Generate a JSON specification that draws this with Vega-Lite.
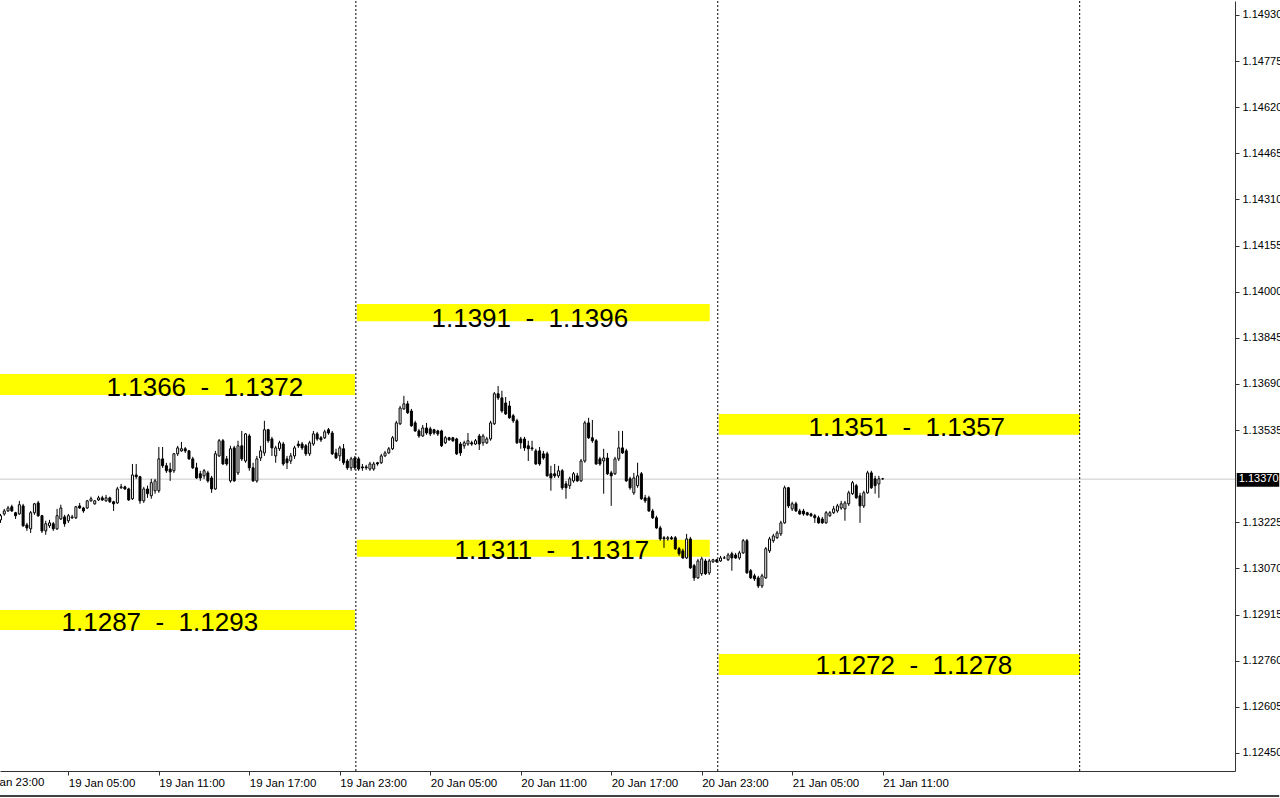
{
"$schema": "https://vega.github.io/schema/vega-lite/v6.json",
"width": 1235, "height": 770,
"autosize": {"type": "pad"},
"padding": {"left": -23, "top": 0, "right": 0, "bottom": 0},
"background": "white",
"config": {"view": {"stroke": null}, "font": "Liberation Sans",
 "axisX": {"labelAlign": "left", "labelBaseline": "top", "labelFont": "Liberation Sans", "labelFontSize": 11.5, "labelColor": "black", "labelPadding": 2, "labelOverlap": false, "labelFlush": false, "tickSize": 4, "tickColor": "#333333", "domainColor": "#333333", "grid": false, "title": null},
 "axisY": {"labelFont": "Liberation Sans", "labelFontSize": 11, "labelColor": "black", "labelPadding": 3, "labelOverlap": false, "labelFlush": false, "tickSize": 4, "tickColor": "#333333", "domainColor": "#333333", "grid": false, "title": null}
},
"datasets": {
"zones": [
{"x1":"2022-01-19T00:28","x2":"2022-01-20T00:00","lo":1.13653,"hi":1.13723,"label":"1.1366\u00a0\u00a0-\u00a0\u00a01.1372","tc":"2022-01-19T14:03","tb":1.13650},
{"x1":"2022-01-19T00:28","x2":"2022-01-20T00:00","lo":1.12863,"hi":1.12930,"label":"1.1287\u00a0\u00a0-\u00a0\u00a01.1293","tc":"2022-01-19T11:04","tb":1.12860},
{"x1":"2022-01-20T00:08","x2":"2022-01-20T23:32","lo":1.13901,"hi":1.13959,"label":"1.1391\u00a0\u00a0-\u00a0\u00a01.1396","tc":"2022-01-20T11:36","tb":1.13881},
{"x1":"2022-01-20T00:08","x2":"2022-01-20T23:32","lo":1.13109,"hi":1.13166,"label":"1.1311\u00a0\u00a0-\u00a0\u00a01.1317","tc":"2022-01-20T13:04","tb":1.13102},
{"x1":"2022-01-21T00:08","x2":"2022-01-22T00:05","lo":1.13519,"hi":1.13589,"label":"1.1351\u00a0\u00a0-\u00a0\u00a01.1357","tc":"2022-01-21T12:36","tb":1.13515},
{"x1":"2022-01-21T00:08","x2":"2022-01-22T00:05","lo":1.12712,"hi":1.12782,"label":"1.1272\u00a0\u00a0-\u00a0\u00a01.1278","tc":"2022-01-21T13:04","tb":1.12715}
],
"seps": [{"t":"2022-01-20T00:04"},{"t":"2022-01-21T00:04"},{"t":"2022-01-22T00:04"}],
"bid": [{"price":1.1337,"label":"1.13370","bx1":"2022-01-22T10:29","bx2":"2022-01-22T13:18","btx":"2022-01-22T10:37","blo":1.13344,"bhi":1.13391,"fx1":"2022-01-19T00:28","fy":1.12305}],
"edge": [{"t":"2022-01-18T23:00","p":1.12369,"label":"18 Jan 23:00"}],
"candles": [
{"t":"2022-01-19T00:30","o":1.13233,"h":1.13253,"l":1.13223,"c":1.13247},
{"t":"2022-01-19T00:45","o":1.13253,"h":1.13270,"l":1.13247,"c":1.13263},
{"t":"2022-01-19T01:00","o":1.13263,"h":1.13280,"l":1.13260,"c":1.13273},
{"t":"2022-01-19T01:15","o":1.13277,"h":1.13284,"l":1.13260,"c":1.13263},
{"t":"2022-01-19T01:30","o":1.13257,"h":1.13260,"l":1.13236,"c":1.13247},
{"t":"2022-01-19T01:45","o":1.13253,"h":1.13297,"l":1.13250,"c":1.13284},
{"t":"2022-01-19T02:00","o":1.13280,"h":1.13287,"l":1.13210,"c":1.13213},
{"t":"2022-01-19T02:15","o":1.13216,"h":1.13223,"l":1.13196,"c":1.13206},
{"t":"2022-01-19T02:30","o":1.13203,"h":1.13263,"l":1.13189,"c":1.13257},
{"t":"2022-01-19T02:45","o":1.13257,"h":1.13290,"l":1.13250,"c":1.13287},
{"t":"2022-01-19T03:00","o":1.13290,"h":1.13297,"l":1.13243,"c":1.13247},
{"t":"2022-01-19T03:15","o":1.13247,"h":1.13250,"l":1.13189,"c":1.13196},
{"t":"2022-01-19T03:30","o":1.13196,"h":1.13230,"l":1.13183,"c":1.13220},
{"t":"2022-01-19T03:45","o":1.13213,"h":1.13233,"l":1.13206,"c":1.13223},
{"t":"2022-01-19T04:00","o":1.13220,"h":1.13226,"l":1.13196,"c":1.13203},
{"t":"2022-01-19T04:15","o":1.13203,"h":1.13270,"l":1.13199,"c":1.13247},
{"t":"2022-01-19T04:30","o":1.13236,"h":1.13284,"l":1.13233,"c":1.13273},
{"t":"2022-01-19T04:45","o":1.13243,"h":1.13250,"l":1.13210,"c":1.13220},
{"t":"2022-01-19T05:00","o":1.13230,"h":1.13253,"l":1.13223,"c":1.13247},
{"t":"2022-01-19T05:15","o":1.13240,"h":1.13250,"l":1.13236,"c":1.13243},
{"t":"2022-01-19T05:30","o":1.13240,"h":1.13280,"l":1.13236,"c":1.13277},
{"t":"2022-01-19T05:45","o":1.13280,"h":1.13290,"l":1.13270,"c":1.13273},
{"t":"2022-01-19T06:00","o":1.13273,"h":1.13277,"l":1.13257,"c":1.13263},
{"t":"2022-01-19T06:15","o":1.13273,"h":1.13300,"l":1.13270,"c":1.13297},
{"t":"2022-01-19T06:30","o":1.13297,"h":1.13311,"l":1.13294,"c":1.13304},
{"t":"2022-01-19T06:45","o":1.13287,"h":1.13300,"l":1.13284,"c":1.13297},
{"t":"2022-01-19T07:00","o":1.13300,"h":1.13314,"l":1.13297,"c":1.13307},
{"t":"2022-01-19T07:15","o":1.13307,"h":1.13314,"l":1.13297,"c":1.13300},
{"t":"2022-01-19T07:30","o":1.13297,"h":1.13317,"l":1.13294,"c":1.13307},
{"t":"2022-01-19T07:45","o":1.13307,"h":1.13311,"l":1.13290,"c":1.13294},
{"t":"2022-01-19T08:00","o":1.13294,"h":1.13297,"l":1.13263,"c":1.13287},
{"t":"2022-01-19T08:15","o":1.13290,"h":1.13344,"l":1.13287,"c":1.13337},
{"t":"2022-01-19T08:30","o":1.13341,"h":1.13354,"l":1.13337,"c":1.13344},
{"t":"2022-01-19T08:45","o":1.13344,"h":1.13348,"l":1.13334,"c":1.13337},
{"t":"2022-01-19T09:00","o":1.13337,"h":1.13341,"l":1.13297,"c":1.13300},
{"t":"2022-01-19T09:15","o":1.13304,"h":1.13421,"l":1.13300,"c":1.13384},
{"t":"2022-01-19T09:30","o":1.13384,"h":1.13421,"l":1.13371,"c":1.13378},
{"t":"2022-01-19T09:45","o":1.13378,"h":1.13381,"l":1.13287,"c":1.13297},
{"t":"2022-01-19T10:00","o":1.13297,"h":1.13344,"l":1.13290,"c":1.13337},
{"t":"2022-01-19T10:15","o":1.13337,"h":1.13348,"l":1.13307,"c":1.13321},
{"t":"2022-01-19T10:30","o":1.13314,"h":1.13371,"l":1.13304,"c":1.13358},
{"t":"2022-01-19T10:45","o":1.13331,"h":1.13371,"l":1.13321,"c":1.13364},
{"t":"2022-01-19T11:00","o":1.13331,"h":1.13478,"l":1.13324,"c":1.13438},
{"t":"2022-01-19T11:15","o":1.13438,"h":1.13478,"l":1.13408,"c":1.13415},
{"t":"2022-01-19T11:30","o":1.13415,"h":1.13425,"l":1.13391,"c":1.13398},
{"t":"2022-01-19T11:45","o":1.13404,"h":1.13425,"l":1.13364,"c":1.13394},
{"t":"2022-01-19T12:00","o":1.13398,"h":1.13458,"l":1.13391,"c":1.13455},
{"t":"2022-01-19T12:15","o":1.13455,"h":1.13482,"l":1.13448,"c":1.13475},
{"t":"2022-01-19T12:30","o":1.13465,"h":1.13495,"l":1.13462,"c":1.13472},
{"t":"2022-01-19T12:45","o":1.13472,"h":1.13478,"l":1.13458,"c":1.13465},
{"t":"2022-01-19T13:00","o":1.13465,"h":1.13468,"l":1.13435,"c":1.13438},
{"t":"2022-01-19T13:15","o":1.13438,"h":1.13445,"l":1.13404,"c":1.13408},
{"t":"2022-01-19T13:30","o":1.13408,"h":1.13425,"l":1.13371,"c":1.13374},
{"t":"2022-01-19T13:45","o":1.13388,"h":1.13398,"l":1.13364,"c":1.13374},
{"t":"2022-01-19T14:00","o":1.13381,"h":1.13404,"l":1.13371,"c":1.13398},
{"t":"2022-01-19T14:15","o":1.13391,"h":1.13398,"l":1.13358,"c":1.13364},
{"t":"2022-01-19T14:30","o":1.13374,"h":1.13381,"l":1.13324,"c":1.13337},
{"t":"2022-01-19T14:45","o":1.13337,"h":1.13465,"l":1.13334,"c":1.13455},
{"t":"2022-01-19T15:00","o":1.13448,"h":1.13505,"l":1.13445,"c":1.13499},
{"t":"2022-01-19T15:15","o":1.13499,"h":1.13505,"l":1.13418,"c":1.13421},
{"t":"2022-01-19T15:30","o":1.13438,"h":1.13448,"l":1.13415,"c":1.13421},
{"t":"2022-01-19T15:45","o":1.13364,"h":1.13482,"l":1.13358,"c":1.13472},
{"t":"2022-01-19T16:00","o":1.13475,"h":1.13482,"l":1.13361,"c":1.13364},
{"t":"2022-01-19T16:15","o":1.13391,"h":1.13499,"l":1.13384,"c":1.13482},
{"t":"2022-01-19T16:30","o":1.13482,"h":1.13532,"l":1.13431,"c":1.13438},
{"t":"2022-01-19T16:45","o":1.13431,"h":1.13525,"l":1.13425,"c":1.13522},
{"t":"2022-01-19T17:00","o":1.13515,"h":1.13522,"l":1.13398,"c":1.13408},
{"t":"2022-01-19T17:15","o":1.13408,"h":1.13425,"l":1.13361,"c":1.13364},
{"t":"2022-01-19T17:30","o":1.13364,"h":1.13448,"l":1.13358,"c":1.13438},
{"t":"2022-01-19T17:45","o":1.13441,"h":1.13482,"l":1.13431,"c":1.13465},
{"t":"2022-01-19T18:00","o":1.13458,"h":1.13566,"l":1.13448,"c":1.13536},
{"t":"2022-01-19T18:15","o":1.13536,"h":1.13539,"l":1.13492,"c":1.13499},
{"t":"2022-01-19T18:30","o":1.13505,"h":1.13512,"l":1.13448,"c":1.13475},
{"t":"2022-01-19T18:45","o":1.13448,"h":1.13482,"l":1.13425,"c":1.13475},
{"t":"2022-01-19T19:00","o":1.13472,"h":1.13499,"l":1.13465,"c":1.13492},
{"t":"2022-01-19T19:15","o":1.13488,"h":1.13495,"l":1.13415,"c":1.13421},
{"t":"2022-01-19T19:30","o":1.13438,"h":1.13448,"l":1.13404,"c":1.13425},
{"t":"2022-01-19T19:45","o":1.13431,"h":1.13458,"l":1.13421,"c":1.13448},
{"t":"2022-01-19T20:00","o":1.13448,"h":1.13482,"l":1.13438,"c":1.13475},
{"t":"2022-01-19T20:15","o":1.13488,"h":1.13499,"l":1.13475,"c":1.13482},
{"t":"2022-01-19T20:30","o":1.13488,"h":1.13495,"l":1.13468,"c":1.13475},
{"t":"2022-01-19T20:45","o":1.13482,"h":1.13488,"l":1.13448,"c":1.13455},
{"t":"2022-01-19T21:00","o":1.13455,"h":1.13499,"l":1.13448,"c":1.13492},
{"t":"2022-01-19T21:15","o":1.13488,"h":1.13532,"l":1.13482,"c":1.13522},
{"t":"2022-01-19T21:30","o":1.13522,"h":1.13529,"l":1.13499,"c":1.13505},
{"t":"2022-01-19T21:45","o":1.13509,"h":1.13515,"l":1.13495,"c":1.13502},
{"t":"2022-01-19T22:00","o":1.13509,"h":1.13536,"l":1.13505,"c":1.13529},
{"t":"2022-01-19T22:15","o":1.13536,"h":1.13542,"l":1.13519,"c":1.13525},
{"t":"2022-01-19T22:30","o":1.13525,"h":1.13532,"l":1.13451,"c":1.13455},
{"t":"2022-01-19T22:45","o":1.13458,"h":1.13472,"l":1.13438,"c":1.13441},
{"t":"2022-01-19T23:00","o":1.13448,"h":1.13482,"l":1.13431,"c":1.13475},
{"t":"2022-01-19T23:15","o":1.13472,"h":1.13488,"l":1.13418,"c":1.13425},
{"t":"2022-01-19T23:30","o":1.13431,"h":1.13438,"l":1.13401,"c":1.13408},
{"t":"2022-01-19T23:45","o":1.13408,"h":1.13445,"l":1.13398,"c":1.13438},
{"t":"2022-01-20T00:00","o":1.13441,"h":1.13448,"l":1.13401,"c":1.13408},
{"t":"2022-01-20T00:15","o":1.13438,"h":1.13445,"l":1.13398,"c":1.13404},
{"t":"2022-01-20T00:30","o":1.13411,"h":1.13421,"l":1.13398,"c":1.13408},
{"t":"2022-01-20T00:45","o":1.13411,"h":1.13418,"l":1.13401,"c":1.13408},
{"t":"2022-01-20T01:00","o":1.13404,"h":1.13428,"l":1.13398,"c":1.13421},
{"t":"2022-01-20T01:15","o":1.13404,"h":1.13428,"l":1.13398,"c":1.13421},
{"t":"2022-01-20T01:30","o":1.13425,"h":1.13428,"l":1.13415,"c":1.13421},
{"t":"2022-01-20T01:45","o":1.13425,"h":1.13455,"l":1.13421,"c":1.13448},
{"t":"2022-01-20T02:00","o":1.13448,"h":1.13465,"l":1.13445,"c":1.13458},
{"t":"2022-01-20T02:15","o":1.13458,"h":1.13478,"l":1.13455,"c":1.13472},
{"t":"2022-01-20T02:30","o":1.13472,"h":1.13515,"l":1.13468,"c":1.13509},
{"t":"2022-01-20T02:45","o":1.13499,"h":1.13566,"l":1.13495,"c":1.13559},
{"t":"2022-01-20T03:00","o":1.13556,"h":1.13616,"l":1.13552,"c":1.13609},
{"t":"2022-01-20T03:15","o":1.13606,"h":1.13650,"l":1.13603,"c":1.13623},
{"t":"2022-01-20T03:30","o":1.13623,"h":1.13633,"l":1.13589,"c":1.13593},
{"t":"2022-01-20T03:45","o":1.13599,"h":1.13606,"l":1.13546,"c":1.13549},
{"t":"2022-01-20T04:00","o":1.13559,"h":1.13566,"l":1.13529,"c":1.13532},
{"t":"2022-01-20T04:15","o":1.13532,"h":1.13539,"l":1.13509,"c":1.13515},
{"t":"2022-01-20T04:30","o":1.13515,"h":1.13552,"l":1.13512,"c":1.13542},
{"t":"2022-01-20T04:45","o":1.13542,"h":1.13559,"l":1.13519,"c":1.13525},
{"t":"2022-01-20T05:00","o":1.13539,"h":1.13546,"l":1.13515,"c":1.13522},
{"t":"2022-01-20T05:15","o":1.13536,"h":1.13539,"l":1.13519,"c":1.13525},
{"t":"2022-01-20T05:30","o":1.13532,"h":1.13536,"l":1.13515,"c":1.13522},
{"t":"2022-01-20T05:45","o":1.13532,"h":1.13536,"l":1.13478,"c":1.13482},
{"t":"2022-01-20T06:00","o":1.13492,"h":1.13515,"l":1.13488,"c":1.13509},
{"t":"2022-01-20T06:15","o":1.13509,"h":1.13512,"l":1.13499,"c":1.13502},
{"t":"2022-01-20T06:30","o":1.13509,"h":1.13512,"l":1.13495,"c":1.13499},
{"t":"2022-01-20T06:45","o":1.13505,"h":1.13509,"l":1.13451,"c":1.13455},
{"t":"2022-01-20T07:00","o":1.13488,"h":1.13495,"l":1.13448,"c":1.13458},
{"t":"2022-01-20T07:15","o":1.13482,"h":1.13499,"l":1.13472,"c":1.13492},
{"t":"2022-01-20T07:30","o":1.13488,"h":1.13525,"l":1.13482,"c":1.13499},
{"t":"2022-01-20T07:45","o":1.13492,"h":1.13499,"l":1.13482,"c":1.13488},
{"t":"2022-01-20T08:00","o":1.13488,"h":1.13505,"l":1.13485,"c":1.13499},
{"t":"2022-01-20T08:15","o":1.13515,"h":1.13522,"l":1.13468,"c":1.13488},
{"t":"2022-01-20T08:30","o":1.13492,"h":1.13522,"l":1.13482,"c":1.13515},
{"t":"2022-01-20T08:45","o":1.13492,"h":1.13512,"l":1.13488,"c":1.13505},
{"t":"2022-01-20T09:00","o":1.13505,"h":1.13566,"l":1.13499,"c":1.13559},
{"t":"2022-01-20T09:15","o":1.13556,"h":1.13663,"l":1.13552,"c":1.13657},
{"t":"2022-01-20T09:30","o":1.13657,"h":1.13683,"l":1.13636,"c":1.13643},
{"t":"2022-01-20T09:45","o":1.13643,"h":1.13667,"l":1.13593,"c":1.13599},
{"t":"2022-01-20T10:00","o":1.13626,"h":1.13646,"l":1.13586,"c":1.13589},
{"t":"2022-01-20T10:15","o":1.13616,"h":1.13633,"l":1.13573,"c":1.13576},
{"t":"2022-01-20T10:30","o":1.13583,"h":1.13589,"l":1.13559,"c":1.13566},
{"t":"2022-01-20T10:45","o":1.13566,"h":1.13573,"l":1.13488,"c":1.13492},
{"t":"2022-01-20T11:00","o":1.13505,"h":1.13512,"l":1.13472,"c":1.13492},
{"t":"2022-01-20T11:15","o":1.13505,"h":1.13512,"l":1.13465,"c":1.13475},
{"t":"2022-01-20T11:30","o":1.13482,"h":1.13499,"l":1.13431,"c":1.13472},
{"t":"2022-01-20T11:45","o":1.13475,"h":1.13499,"l":1.13465,"c":1.13472},
{"t":"2022-01-20T12:00","o":1.13465,"h":1.13472,"l":1.13418,"c":1.13421},
{"t":"2022-01-20T12:15","o":1.13465,"h":1.13478,"l":1.13415,"c":1.13421},
{"t":"2022-01-20T12:30","o":1.13455,"h":1.13465,"l":1.13435,"c":1.13441},
{"t":"2022-01-20T12:45","o":1.13455,"h":1.13462,"l":1.13378,"c":1.13381},
{"t":"2022-01-20T13:00","o":1.13388,"h":1.13415,"l":1.13331,"c":1.13374},
{"t":"2022-01-20T13:15","o":1.13388,"h":1.13421,"l":1.13374,"c":1.13381},
{"t":"2022-01-20T13:30","o":1.13381,"h":1.13415,"l":1.13374,"c":1.13398},
{"t":"2022-01-20T13:45","o":1.13398,"h":1.13404,"l":1.13334,"c":1.13341},
{"t":"2022-01-20T14:00","o":1.13354,"h":1.13364,"l":1.13304,"c":1.13341},
{"t":"2022-01-20T14:15","o":1.13348,"h":1.13378,"l":1.13337,"c":1.13371},
{"t":"2022-01-20T14:30","o":1.13364,"h":1.13394,"l":1.13358,"c":1.13388},
{"t":"2022-01-20T14:45","o":1.13381,"h":1.13391,"l":1.13361,"c":1.13364},
{"t":"2022-01-20T15:00","o":1.13364,"h":1.13438,"l":1.13361,"c":1.13431},
{"t":"2022-01-20T15:15","o":1.13431,"h":1.13566,"l":1.13425,"c":1.13559},
{"t":"2022-01-20T15:30","o":1.13559,"h":1.13576,"l":1.13505,"c":1.13509},
{"t":"2022-01-20T15:45","o":1.13509,"h":1.13569,"l":1.13492,"c":1.13499},
{"t":"2022-01-20T16:00","o":1.13499,"h":1.13505,"l":1.13418,"c":1.13421},
{"t":"2022-01-20T16:15","o":1.13438,"h":1.13445,"l":1.13415,"c":1.13421},
{"t":"2022-01-20T16:30","o":1.13431,"h":1.13472,"l":1.13321,"c":1.13441},
{"t":"2022-01-20T16:45","o":1.13441,"h":1.13458,"l":1.13384,"c":1.13388},
{"t":"2022-01-20T17:00","o":1.13391,"h":1.13398,"l":1.13280,"c":1.13381},
{"t":"2022-01-20T17:15","o":1.13388,"h":1.13445,"l":1.13384,"c":1.13438},
{"t":"2022-01-20T17:30","o":1.13438,"h":1.13532,"l":1.13431,"c":1.13475},
{"t":"2022-01-20T17:45","o":1.13475,"h":1.13532,"l":1.13455,"c":1.13458},
{"t":"2022-01-20T18:00","o":1.13465,"h":1.13472,"l":1.13361,"c":1.13364},
{"t":"2022-01-20T18:15","o":1.13371,"h":1.13378,"l":1.13334,"c":1.13341},
{"t":"2022-01-20T18:30","o":1.13324,"h":1.13391,"l":1.13317,"c":1.13374},
{"t":"2022-01-20T18:45","o":1.13348,"h":1.13425,"l":1.13341,"c":1.13381},
{"t":"2022-01-20T19:00","o":1.13388,"h":1.13394,"l":1.13300,"c":1.13304},
{"t":"2022-01-20T19:15","o":1.13307,"h":1.13317,"l":1.13290,"c":1.13297},
{"t":"2022-01-20T19:30","o":1.13307,"h":1.13314,"l":1.13260,"c":1.13263},
{"t":"2022-01-20T19:45","o":1.13263,"h":1.13270,"l":1.13236,"c":1.13240},
{"t":"2022-01-20T20:00","o":1.13240,"h":1.13247,"l":1.13203,"c":1.13206},
{"t":"2022-01-20T20:15","o":1.13206,"h":1.13213,"l":1.13163,"c":1.13169},
{"t":"2022-01-20T20:30","o":1.13173,"h":1.13179,"l":1.13139,"c":1.13169},
{"t":"2022-01-20T20:45","o":1.13169,"h":1.13179,"l":1.13163,"c":1.13173},
{"t":"2022-01-20T21:00","o":1.13173,"h":1.13179,"l":1.13166,"c":1.13169},
{"t":"2022-01-20T21:15","o":1.13173,"h":1.13179,"l":1.13132,"c":1.13136},
{"t":"2022-01-20T21:30","o":1.13136,"h":1.13142,"l":1.13112,"c":1.13119},
{"t":"2022-01-20T21:45","o":1.13129,"h":1.13136,"l":1.13102,"c":1.13105},
{"t":"2022-01-20T22:00","o":1.13105,"h":1.13186,"l":1.13102,"c":1.13169},
{"t":"2022-01-20T22:15","o":1.13169,"h":1.13176,"l":1.13068,"c":1.13072},
{"t":"2022-01-20T22:30","o":1.13079,"h":1.13085,"l":1.13028,"c":1.13038},
{"t":"2022-01-20T22:45","o":1.13038,"h":1.13102,"l":1.13035,"c":1.13095},
{"t":"2022-01-20T23:00","o":1.13052,"h":1.13109,"l":1.13045,"c":1.13102},
{"t":"2022-01-20T23:15","o":1.13095,"h":1.13102,"l":1.13048,"c":1.13052},
{"t":"2022-01-20T23:30","o":1.13055,"h":1.13102,"l":1.13048,"c":1.13095},
{"t":"2022-01-20T23:45","o":1.13092,"h":1.13102,"l":1.13089,"c":1.13099},
{"t":"2022-01-21T00:00","o":1.13099,"h":1.13102,"l":1.13089,"c":1.13092},
{"t":"2022-01-21T00:15","o":1.13095,"h":1.13112,"l":1.13092,"c":1.13105},
{"t":"2022-01-21T00:30","o":1.13105,"h":1.13112,"l":1.13102,"c":1.13105},
{"t":"2022-01-21T00:45","o":1.13099,"h":1.13122,"l":1.13095,"c":1.13115},
{"t":"2022-01-21T01:00","o":1.13119,"h":1.13126,"l":1.13062,"c":1.13105},
{"t":"2022-01-21T01:15","o":1.13115,"h":1.13122,"l":1.13102,"c":1.13105},
{"t":"2022-01-21T01:30","o":1.13105,"h":1.13129,"l":1.13099,"c":1.13122},
{"t":"2022-01-21T01:45","o":1.13122,"h":1.13169,"l":1.13119,"c":1.13163},
{"t":"2022-01-21T02:00","o":1.13163,"h":1.13169,"l":1.13052,"c":1.13055},
{"t":"2022-01-21T02:15","o":1.13062,"h":1.13068,"l":1.13035,"c":1.13038},
{"t":"2022-01-21T02:30","o":1.13045,"h":1.13052,"l":1.13028,"c":1.13035},
{"t":"2022-01-21T02:45","o":1.13038,"h":1.13045,"l":1.13004,"c":1.13011},
{"t":"2022-01-21T03:00","o":1.13011,"h":1.13052,"l":1.13004,"c":1.13045},
{"t":"2022-01-21T03:15","o":1.13038,"h":1.13142,"l":1.13035,"c":1.13136},
{"t":"2022-01-21T03:30","o":1.13129,"h":1.13176,"l":1.13122,"c":1.13169},
{"t":"2022-01-21T03:45","o":1.13163,"h":1.13186,"l":1.13156,"c":1.13179},
{"t":"2022-01-21T04:00","o":1.13173,"h":1.13196,"l":1.13169,"c":1.13189},
{"t":"2022-01-21T04:15","o":1.13186,"h":1.13230,"l":1.13179,"c":1.13223},
{"t":"2022-01-21T04:30","o":1.13223,"h":1.13348,"l":1.13220,"c":1.13341},
{"t":"2022-01-21T04:45","o":1.13341,"h":1.13344,"l":1.13273,"c":1.13280},
{"t":"2022-01-21T05:00","o":1.13270,"h":1.13294,"l":1.13263,"c":1.13287},
{"t":"2022-01-21T05:15","o":1.13287,"h":1.13294,"l":1.13260,"c":1.13263},
{"t":"2022-01-21T05:30","o":1.13263,"h":1.13270,"l":1.13250,"c":1.13253},
{"t":"2022-01-21T05:45","o":1.13263,"h":1.13270,"l":1.13247,"c":1.13253},
{"t":"2022-01-21T06:00","o":1.13257,"h":1.13260,"l":1.13247,"c":1.13250},
{"t":"2022-01-21T06:15","o":1.13253,"h":1.13257,"l":1.13243,"c":1.13247},
{"t":"2022-01-21T06:30","o":1.13247,"h":1.13253,"l":1.13223,"c":1.13240},
{"t":"2022-01-21T06:45","o":1.13240,"h":1.13247,"l":1.13220,"c":1.13223},
{"t":"2022-01-21T07:00","o":1.13236,"h":1.13243,"l":1.13220,"c":1.13223},
{"t":"2022-01-21T07:15","o":1.13223,"h":1.13263,"l":1.13220,"c":1.13257},
{"t":"2022-01-21T07:30","o":1.13247,"h":1.13263,"l":1.13243,"c":1.13257},
{"t":"2022-01-21T07:45","o":1.13257,"h":1.13280,"l":1.13253,"c":1.13270},
{"t":"2022-01-21T08:00","o":1.13263,"h":1.13287,"l":1.13257,"c":1.13280},
{"t":"2022-01-21T08:15","o":1.13273,"h":1.13297,"l":1.13267,"c":1.13287},
{"t":"2022-01-21T08:30","o":1.13270,"h":1.13297,"l":1.13230,"c":1.13290},
{"t":"2022-01-21T08:45","o":1.13287,"h":1.13331,"l":1.13280,"c":1.13324},
{"t":"2022-01-21T09:00","o":1.13321,"h":1.13364,"l":1.13317,"c":1.13358},
{"t":"2022-01-21T09:15","o":1.13348,"h":1.13354,"l":1.13304,"c":1.13307},
{"t":"2022-01-21T09:30","o":1.13314,"h":1.13324,"l":1.13223,"c":1.13280},
{"t":"2022-01-21T09:45","o":1.13280,"h":1.13331,"l":1.13273,"c":1.13324},
{"t":"2022-01-21T10:00","o":1.13324,"h":1.13398,"l":1.13321,"c":1.13391},
{"t":"2022-01-21T10:15","o":1.13391,"h":1.13398,"l":1.13337,"c":1.13341},
{"t":"2022-01-21T10:30","o":1.13371,"h":1.13381,"l":1.13321,"c":1.13348},
{"t":"2022-01-21T10:45","o":1.13354,"h":1.13381,"l":1.13307,"c":1.13371},
{"t":"2022-01-21T11:00","o":1.13371,"h":1.13374,"l":1.13368,"c":1.13371}
]
},
"encoding": {
 "x": {"type": "temporal", "title": null,
  "scale": {"domain": [{"year":2022,"month":1,"date":19,"hours":0,"minutes":28},{"year":2022,"month":1,"date":22,"hours":10,"minutes":22}], "padding": 0},
  "axis": {"format": "%d %b %H:%M",
    "values": [{"year":2022,"month":1,"date":19,"hours":5},{"year":2022,"month":1,"date":19,"hours":11},{"year":2022,"month":1,"date":19,"hours":17},{"year":2022,"month":1,"date":19,"hours":23},{"year":2022,"month":1,"date":20,"hours":5},{"year":2022,"month":1,"date":20,"hours":11},{"year":2022,"month":1,"date":20,"hours":17},{"year":2022,"month":1,"date":20,"hours":23},{"year":2022,"month":1,"date":21,"hours":5},{"year":2022,"month":1,"date":21,"hours":11}]}},
 "y": {"type": "quantitative", "title": null,
  "scale": {"domain": [1.12389, 1.14977], "zero": false, "nice": false, "padding": 0},
  "axis": {"orient": "right", "format": ".5f",
    "values": [1.1245,1.12605,1.1276,1.12915,1.1307,1.13225,1.13535,1.1369,1.13845,1.14,1.14155,1.1431,1.14465,1.1462,1.14775,1.1493]}}
},
"layer": [
{"data": {"name": "zones"}, "mark": {"type": "rect", "fill": "#ffff00"},
 "encoding": {"x": {"field": "x1", "type": "temporal"}, "x2": {"field": "x2"}, "y": {"field": "lo", "type": "quantitative"}, "y2": {"field": "hi"}}},
{"data": {"name": "zones"}, "mark": {"type": "text", "font": "Liberation Sans", "fontSize": 26, "align": "center", "baseline": "alphabetic", "color": "black"},
 "encoding": {"x": {"field": "tc", "type": "temporal"}, "y": {"field": "tb", "type": "quantitative"}, "text": {"field": "label"}}},
{"data": {"name": "bid"}, "mark": {"type": "rule", "color": "#c8c8c8", "strokeWidth": 1},
 "encoding": {"y": {"field": "price", "type": "quantitative"}}},
{"data": {"name": "seps"}, "mark": {"type": "rule", "color": "black", "strokeWidth": 1, "strokeDash": [2, 2]},
 "encoding": {"x": {"field": "t", "type": "temporal"}}},
{"data": {"name": "candles"}, "mark": {"type": "rule", "color": "black", "strokeWidth": 1},
 "encoding": {"x": {"field": "t", "type": "temporal"}, "y": {"field": "l", "type": "quantitative"}, "y2": {"field": "h"}}},
{"data": {"name": "candles"}, "mark": {"type": "bar", "width": 2, "stroke": "black", "strokeWidth": 1},
 "encoding": {"x": {"field": "t", "type": "temporal"}, "y": {"field": "o", "type": "quantitative"}, "y2": {"field": "c"},
  "fill": {"condition": {"test": "datum.c >= datum.o", "value": "white"}, "value": "black"}}},
{"data": {"name": "bid"}, "mark": {"type": "rect", "fill": "black"},
 "encoding": {"x": {"field": "bx1", "type": "temporal"}, "x2": {"field": "bx2"}, "y": {"field": "bhi", "type": "quantitative"}, "y2": {"field": "blo"}}},
{"data": {"name": "bid"}, "mark": {"type": "text", "font": "Liberation Sans", "fontSize": 11, "align": "left", "baseline": "middle", "color": "white"},
 "encoding": {"x": {"field": "btx", "type": "temporal"}, "y": {"field": "price", "type": "quantitative"}, "text": {"field": "label"}}},
{"data": {"name": "edge"}, "mark": {"type": "text", "font": "Liberation Sans", "fontSize": 11.5, "align": "left", "baseline": "top", "color": "black"},
 "encoding": {"x": {"field": "t", "type": "temporal"}, "y": {"field": "p", "type": "quantitative"}, "text": {"field": "label"}}},
{"data": {"name": "bid"}, "mark": {"type": "rule", "color": "#404040", "strokeWidth": 2},
 "encoding": {"x": {"field": "fx1", "type": "temporal"}, "x2": {"field": "bx2"}, "y": {"field": "fy", "type": "quantitative"}}}
]
}
